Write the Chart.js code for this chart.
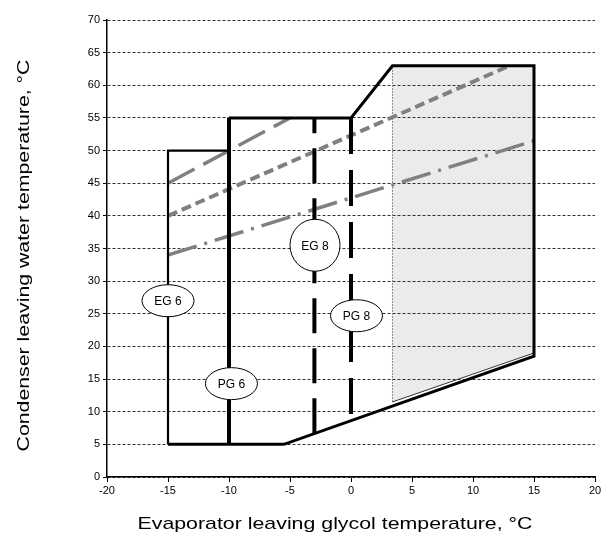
<!DOCTYPE html>
<html>
<head>
<meta charset="utf-8">
<script src="https://cdn.jsdelivr.net/npm/chart.js@4"></script>
<style>
  html, body { margin: 0; padding: 0; background: #fff; }
  canvas { display: block; }
</style>
</head>
<body>
<canvas id="envelope" width="605" height="533"></canvas>
<script>
// axis ranges (°C)
const xRange = [-20, 20];
const yRange = [0, 70];
const tickStep = 5;
const xTitle = "Evaporator leaving glycol temperature, °C";
const yTitle = "Condenser leaving water temperature, °C";

// operating envelope outlines (evaporator °C, condenser °C)
const envelopeLine = [
  { x: -15, y: 5 }, { x: -5.5, y: 5 }, { x: 15, y: 18.5 }, { x: 15, y: 63 },
  { x: 3.4, y: 63 }, { x: 0, y: 55 }, { x: -10, y: 55 },
];
const eg6Line = [{ x: -10, y: 50 }, { x: -15, y: 50 }, { x: -15, y: 5 }];
const pg6Line = [{ x: -10, y: 5 }, { x: -10, y: 55 }];
const eg8Line = [{ x: -3, y: 6.7 }, { x: -3, y: 55 }];
const pg8Line = [{ x: 0, y: 55 }, { x: 0, y: 8.5 }];

// shaded zone
const shadeZone = [
  { x: 3.4, y: 11.5 }, { x: 3.4, y: 63 }, { x: 15, y: 63 }, { x: 15, y: 19 }, { x: 3.4, y: 11.5 },
];
const shadeLeft = [{ x: 3.4, y: 11.5 }, { x: 3.4, y: 63 }];
const shadeBottom = [{ x: 3.4, y: 11.5 }, { x: 15, y: 19 }];

// gray limit lines
const longDashLine = [{ x: -15, y: 45 }, { x: -5, y: 55 }];
const shortDashLine = [{ x: -15, y: 40 }, { x: 13, y: 63 }];
const dashDotLine = [{ x: -15, y: 34 }, { x: 15, y: 51.5 }];

// bubble tags
const tagNames = ["EG 6", "PG 6", "EG 8", "PG 8"];
const tagX = [-15, -9.8, -2.95, 0.45];
const tagY = [27, 14.3, 35.5, 24.7];

const FONT = "'Liberation Sans', Arial, sans-serif";
const GRAY = "#808080";
const TAG_RADII = { "EG 8": [25, 26] };

const tagPlugin = {
  id: "tags",
  afterDatasetsDraw(chart) {
    const { ctx, scales } = chart;
    ctx.save();
    ctx.font = `12px ${FONT}`;
    ctx.textAlign = "center";
    ctx.textBaseline = "middle";
    tagNames.forEach((name, i) => {
      const cx = scales.x.getPixelForValue(tagX[i]);
      const cy = scales.y.getPixelForValue(tagY[i]);
      const [rx, ry] = TAG_RADII[name] || [26, 16];
      ctx.beginPath();
      ctx.ellipse(cx, cy, rx, ry, 0, 0, Math.PI * 2);
      ctx.fillStyle = "#fff";
      ctx.fill();
      ctx.lineWidth = 1;
      ctx.strokeStyle = "#000";
      ctx.stroke();
      ctx.fillStyle = "#000";
      ctx.fillText(name, cx, cy + 1);
    });
    ctx.restore();
  },
};

// axis titles are wide-set and off-centre in the original, so place them by hand
function drawStretched(ctx, text, length) {
  const w = ctx.measureText(text).width;
  ctx.scale(length / w, 1);
  ctx.fillText(text, 0, 0);
}

const titlePlugin = {
  id: "axisTitles",
  afterDraw(chart) {
    const { ctx, chartArea } = chart;
    ctx.save();
    ctx.font = `17px ${FONT}`;
    ctx.fillStyle = "#000";
    ctx.textAlign = "center";
    ctx.textBaseline = "alphabetic";
    ctx.save();
    ctx.translate((chartArea.left + chartArea.right) / 2 - 16, chart.height - 4);
    drawStretched(ctx, xTitle, 395);
    ctx.restore();
    ctx.translate(29, (chartArea.top + chartArea.bottom) / 2 + 7);
    ctx.rotate(-Math.PI / 2);
    drawStretched(ctx, yTitle, 392);
    ctx.restore();
  },
};

function line(data, color, width, dash, extra) {
  return Object.assign({
    data,
    showLine: true,
    borderColor: color,
    borderWidth: width,
    borderDash: dash || [],
    pointRadius: 0,
    fill: false,
    tension: 0,
  }, extra || {});
}

new Chart(document.getElementById("envelope"), {
  type: "scatter",
  data: {
    datasets: [
      line(envelopeLine, "#000", 3),
      line(pg6Line, "#000", 4),
      line(eg6Line, "#000", 2.2),
      line(eg8Line, "#000", 4, [35, 15]),
      line(pg8Line, "#000", 4, [36, 16]),
      line(longDashLine, GRAY, 3.5, [30, 10]),
      line(shortDashLine, GRAY, 4, [10, 5]),
      line(dashDotLine, GRAY, 3.5, [30, 8, 3, 8]),
      line(shadeBottom, "#333", 1),
      line(shadeLeft, "#888", 1, [2, 1]),
      line(shadeZone, "rgba(0,0,0,0)", 0, [], {
        fill: "shape",
        backgroundColor: "rgba(0,0,0,0.08)",
      }),
    ],
  },
  options: {
    responsive: false,
    animation: false,
    layout: { padding: { top: 20, right: 10, left: 0, bottom: 0 } },
    plugins: {
      legend: { display: false },
      tooltip: { enabled: false },
    },
    scales: {
      x: {
        type: "linear",
        min: xRange[0],
        max: xRange[1],
        ticks: { stepSize: tickStep, color: "#000", font: { family: FONT, size: 11 }, padding: 2 },
        grid: { drawOnChartArea: false, drawTicks: true, tickLength: 5, tickColor: "#000" },
        border: { color: "#000", width: 1.5 },
        afterFit(scale) { scale.height = 56; },
      },
      y: {
        min: yRange[0],
        max: yRange[1],
        ticks: { stepSize: tickStep, color: "#000", font: { family: FONT, size: 11 }, padding: 3 },
        grid: { color: "#333", lineWidth: 1, tickLength: 4, tickColor: "#000" },
        border: { color: "#000", width: 1.5, dash: [3, 2] },
        afterFit(scale) { scale.width = 107; },
      },
    },
  },
  plugins: [tagPlugin, titlePlugin],
});
</script>
</body>
</html>
